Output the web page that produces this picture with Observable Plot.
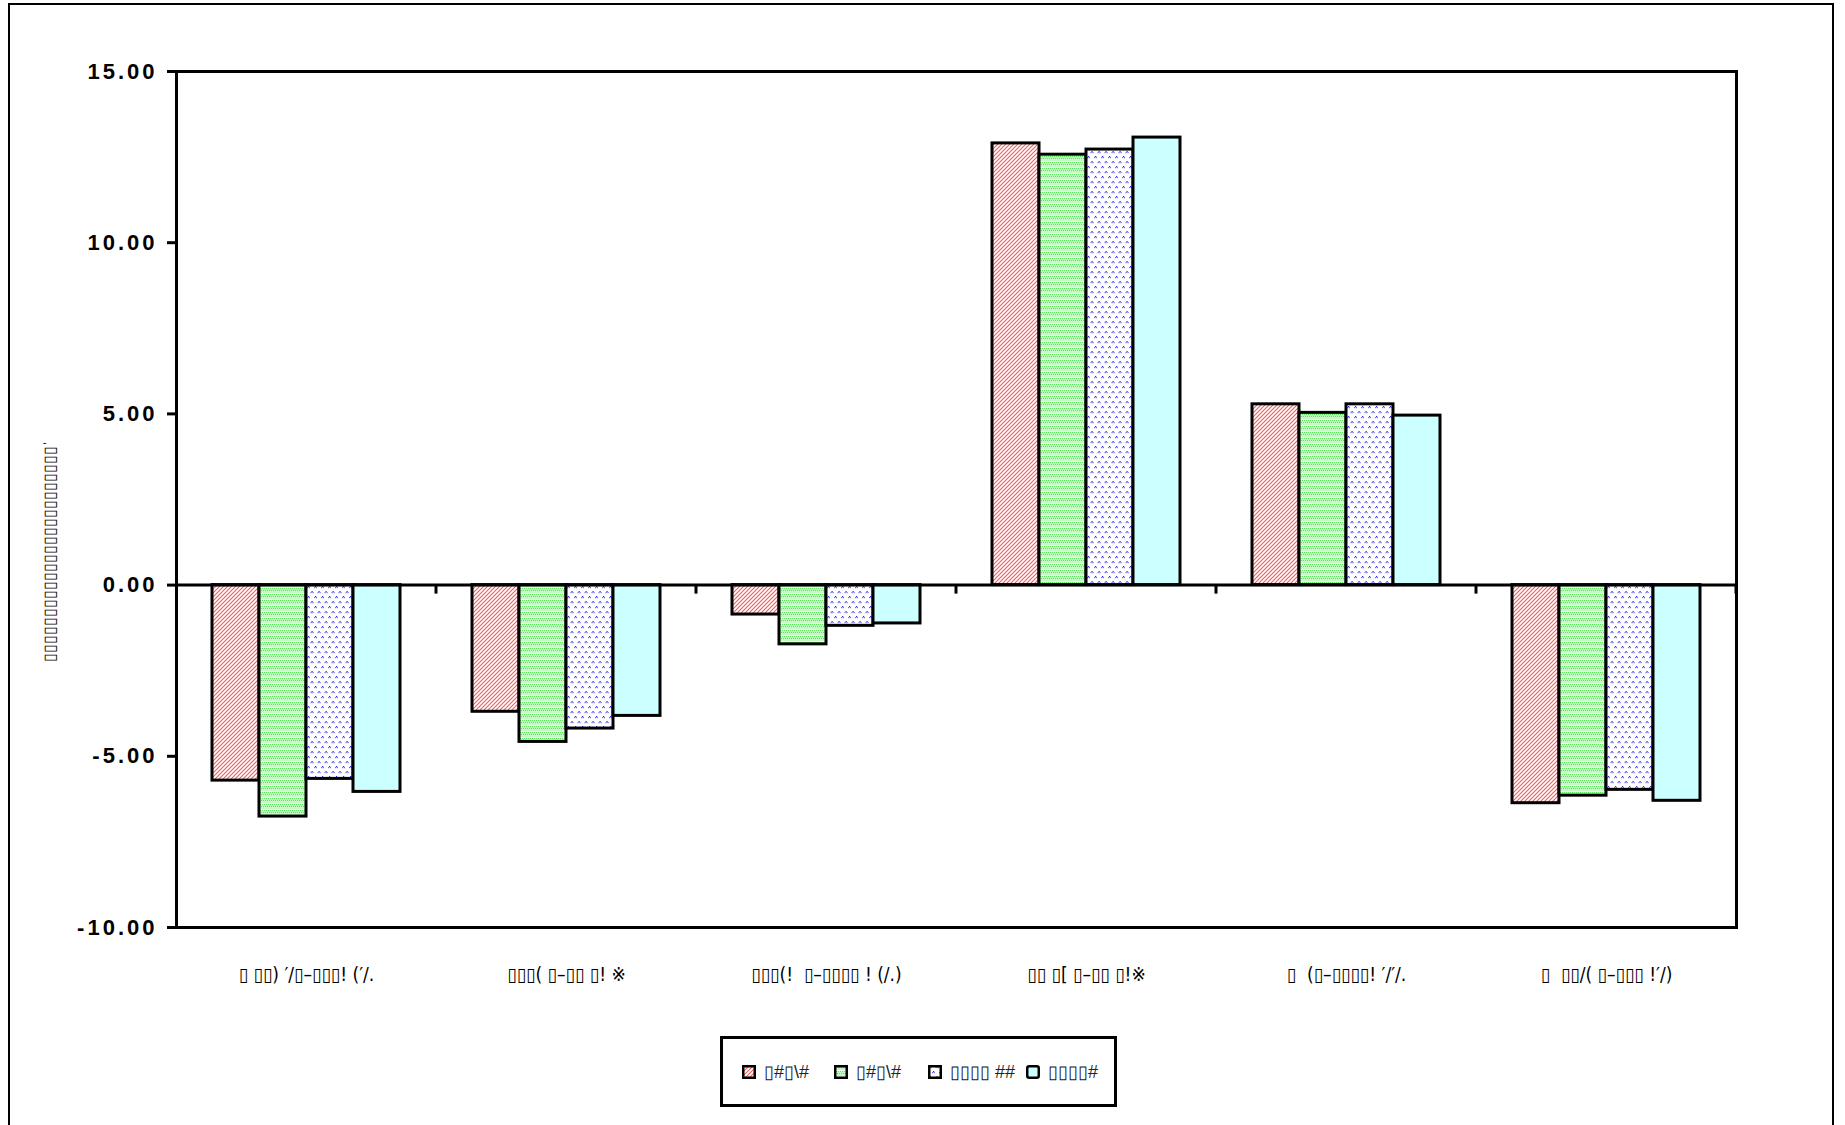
<!DOCTYPE html>
<html>
<head>
<meta charset="utf-8">
<script src="https://cdn.jsdelivr.net/npm/d3@7"></script>
<script src="https://cdn.jsdelivr.net/npm/@observablehq/plot@0.6"></script>
<style>
  html, body { margin: 0; padding: 0; background: #fff; overflow: hidden; }
  #wrap { position: relative; width: 1845px; height: 1125px; font-family: "Liberation Sans", Arial, sans-serif; }
  #outer { position: absolute; left: 8px; top: 3px; width: 1822px; height: 1300px; border: 2px solid #000; pointer-events: none; }
  #chart { position: absolute; left: 0; top: 0; }
  #chart g[aria-label="y-axis tick label"] text { letter-spacing: 3px; }
  #legend { position: absolute; left: 720px; top: 1036px; width: 397px; height: 71px; box-sizing: border-box;
            border: 3px solid #000; display: flex; align-items: center; padding-left: 19px; background: #fff; }
  .item { display: flex; align-items: center; font-size: 18px; color: #222; }
  .item svg { margin-right: 8px; flex: none; }
</style>
</head>
<body>
<svg width="0" height="0" style="position:absolute">
  <defs>
    <pattern id="pat-red" patternUnits="userSpaceOnUse" width="4" height="4">
      <rect width="4" height="4" fill="#fff"/>
      <path d="M-1,1 l2,-2 M0,4 l4,-4 M3,5 l2,-2" stroke="#f25a5a" stroke-width="1.1"/>
    </pattern>
    <pattern id="pat-green" patternUnits="userSpaceOnUse" width="4" height="6">
      <rect width="4" height="6" fill="#c4f9c4"/>
      <rect x="0" y="0" width="1" height="1" fill="#5ee45e"/>
      <rect x="2" y="0" width="1" height="1" fill="#5ee45e"/>
      <rect x="1" y="2" width="1" height="1" fill="#5ee45e"/>
      <rect x="3" y="2" width="1" height="1" fill="#5ee45e"/>
      <rect x="0" y="5" width="4" height="1" fill="#f4fff4"/>
    </pattern>
    <pattern id="pat-blue" patternUnits="userSpaceOnUse" width="7" height="10">
      <rect width="7" height="10" fill="#fff"/>
      <rect x="1.5" y="1" width="1.2" height="1.2" fill="#2a2ae8"/>
      <rect x="0.5" y="2" width="1.2" height="1.2" fill="#6a6af2"/>
      <rect x="2.5" y="2" width="1.2" height="1.2" fill="#6a6af2"/>
      <rect x="5" y="6" width="1.2" height="1.2" fill="#2a2ae8"/>
      <rect x="4" y="7" width="1.2" height="1.2" fill="#6a6af2"/>
      <rect x="6" y="7" width="1.2" height="1.2" fill="#6a6af2"/>
    </pattern>
  </defs>
</svg>
<div id="wrap">
  <div id="chart"></div>
  <div id="legend"></div>
  <div id="outer"></div>
</div>
<script>
// ---- data ----
const categories = [
  "▯ ▯▯) ′/▯–▯▯▯! (′/.",
  "▯▯▯( ▯–▯▯ ▯! ※",
  "▯▯▯(!\u00a0\u00a0▯–▯▯▯▯ ! (/.)",
  "▯▯ ▯[ ▯–▯▯ ▯!※",
  "▯\u00a0\u00a0(▯–▯▯▯▯! ′/′/.",
  "▯\u00a0\u00a0▯▯/( ▯–▯▯▯ !′/)"
];
const seriesKeys = ["s1", "s2", "s3", "s4"];
const seriesLabels = ["▯#▯\\#", "▯#▯\\#", "▯▯▯▯ ##", "▯▯▯▯#"];
const series1 = [-5.71, -3.70, -0.86, 12.90, 5.28, -6.37];
const series2 = [-6.76, -4.58, -1.73, 12.57, 5.03, -6.15];
const series3 = [-5.66, -4.19, -1.19, 12.72, 5.28, -5.98];
const series4 = [-6.04, -3.82, -1.12, 13.07, 4.95, -6.30];
const yTicks = [-10, -5, 0, 5, 10, 15];
const yTitle = "▯▯▯▯▯▯▯▯▯▯▯▯▯▯▯▯▯▯▯▯▯▯▯▯ˈ";

// ---- styles ----
const fills = ["url(#pat-red)", "url(#pat-green)", "url(#pat-blue)", "#ccffff"];

const allSeries = [series1, series2, series3, series4];
const data = [];
categories.forEach((c, i) => {
  seriesKeys.forEach((k, j) => data.push({cat: c, key: k, value: allSeries[j][i]}));
});

function boundaryTicks(index, scales, values, dimensions) {
  let xr;
  if (scales.x && typeof scales.x.range === "function") xr = scales.x.range();
  else xr = [dimensions.marginLeft, dimensions.width - dimensions.marginRight];
  const x = Math.max(...xr);
  const y0 = scales.y(0);
  const g = d3.create("svg:g");
  g.append("line").attr("x1", x).attr("x2", x).attr("y1", y0).attr("y2", y0 + 9)
    .attr("stroke", "#000").attr("stroke-width", 3);
  return g.node();
}

const W = 1845, H = 1010;
const chart = Plot.plot({
  width: W,
  height: H,
  marginLeft: 174,
  marginRight: 107,
  marginTop: 71,
  marginBottom: H - 927,
  style: {fontFamily: "'Liberation Sans', Arial, sans-serif", background: "transparent", overflow: "visible"},
  fx: {domain: categories, padding: 0, label: null},
  x: {domain: seriesKeys, paddingInner: 0, paddingOuter: 0.762, axis: null},
  y: {domain: [-10, 15], label: null},
  color: {domain: seriesKeys, range: fills},
  marks: [
    Plot.barY(data, {fx: "cat", x: "key", y: "value", fill: "key", stroke: "#000", strokeWidth: 3}),
    Plot.ruleY([0], {stroke: "#000", strokeWidth: 3}),
    Plot.frame({facet: "super", stroke: "#000", strokeWidth: 3}),
    boundaryTicks,
    Plot.axisY({ticks: yTicks, tickFormat: d => d.toFixed(2), tickSize: 9, tickPadding: 10,
      fontSize: 22, fontWeight: "bold", strokeWidth: 3, label: null}),
    Plot.axisFx({anchor: "bottom", tickSize: 0, tickPadding: 40, fontSize: 19, label: null,
      fontFamily: "'Liberation Sans Narrow', 'DejaVu Sans Condensed', 'Liberation Sans', sans-serif"}),
    Plot.text([yTitle], {facet: "super", frameAnchor: "left", text: d => d, rotate: -90,
      textAnchor: "middle", dx: -127, dy: 52, fontSize: 16, fill: "#000"})
  ]
});
document.getElementById("chart").appendChild(chart);

// ---- legend ----
const legend = document.getElementById("legend");
const itemWidths = [92, 94, 98, 80];
seriesKeys.forEach((k, j) => {
  const item = document.createElement("div");
  item.className = "item";
  item.style.width = itemWidths[j] + "px";
  item.innerHTML = `<svg width="14" height="14"><rect x="1.25" y="1.25" width="11.5" height="11.5" rx="${j === 3 ? 2 : 0}" fill="${fills[j]}" stroke="#000" stroke-width="2.5"/></svg><span>${seriesLabels[j]}</span>`;
  legend.appendChild(item);
});
</script>
</body>
</html>
